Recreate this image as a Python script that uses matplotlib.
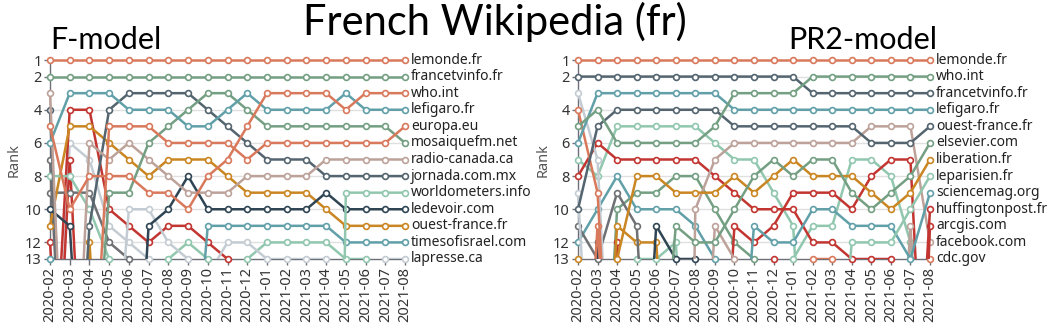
import matplotlib
matplotlib.use("Agg")
import matplotlib.pyplot as plt
from matplotlib.patches import Rectangle

# ---------------- data ----------------
MONTHS = ['2020-02', '2020-03', '2020-04', '2020-05', '2020-06', '2020-07', '2020-08',
          '2020-09', '2020-10', '2020-11', '2020-12', '2021-01', '2021-02', '2021-03',
          '2021-04', '2021-05', '2021-06', '2021-07', '2021-08']
Y_TICKS = [1, 2, 4, 6, 8, 10, 12, 13]

# F-model (ranks > 13 are off chart)
F_LEMONDE       = [1]*19
F_FRANCETVINFO  = [2]*19
F_WHO           = [5, 10, 8, 8, 8, 9, 9, 10, 8, 7, 5, 3, 3, 3, 3, 4, 3, 3, 3]
F_LEFIGARO      = [6, 3, 3, 3, 4, 4, 4, 5, 5, 4, 3, 4, 4, 4, 4, 3, 4, 4, 4]
F_EUROPA        = [30, 30, 25, 5, 5, 5, 6, 6, 6, 6, 7, 6, 6, 6, 6, 6, 6, 6, 5]
F_MOSAIQUE      = [30, 30, 25, 9, 9, 6, 5, 4, 3, 3, 4, 5, 5, 5, 5, 5, 5, 5, 6]
F_RADIOCANADA   = [3, 30, 6, 7, 6, 7, 8, 9, 9, 9, 8, 8, 8, 8, 7, 7, 7, 7, 7]
F_JORNADA       = [4, 30, 11, 4, 3, 3, 3, 3, 4, 5, 6, 7, 7, 7, 8, 8, 8, 8, 8]
F_WORLDOMETERS  = [8, 8, 10, 13, 30, 30, 30, 30, 30, 30, 30, 30, 30, 30, 80, 9, 9, 9, 9]
F_LEDEVOIR      = [10, 11, 30, 30, 30, 11, 10, 8, 10, 10, 10, 10, 10, 10, 9, 10, 10, 10, 10]
F_OUESTFRANCE   = [11, 5, 5, 6, 7, 8, 7, 7, 7, 8, 9, 9, 9, 9, 10, 11, 11, 11, 11]
F_TIMESOFISRAEL = [30, 30, 30, 30, 30, 30, 30, 25, 11, 11, 11, 11, 11, 11, 11, 12, 12, 12, 12]
F_LAPRESSE      = [30, 30, 30, 25, 10, 10, 12, 13, 14, 12, 12, 13, 13, 13, 13, 14, 14, 13, 13]
F_OTHER_MINT    = [30, 30, 30, 30, 30, 20, 13, 12, 13, 14, 13, 12, 12, 12, 12, 13, 13, 30, 30]
F_OTHER_LIGHT   = [30, 6, 7, 11, 12, 13, 30, 30, 30, 30, 30, 30, 30, 30, 30, 30, 30, 30, 30]
F_OTHER_RED1    = [25, 4, 4, 10, 11, 12, 11, 11, 12, 13, 30, 30, 30, 30, 30, 30, 30, 30, 30]
F_OTHER_RED2    = [12, 30, 30, 30, 30, 30, 30, 30, 30, 30, 30, 30, 30, 30, 30, 30, 30, 30, 30]
F_OTHER_RED3    = [30, 7, 30, 30, 30, 30, 30, 30, 30, 30, 30, 30, 30, 30, 30, 30, 30, 30, 30]
F_OTHER_GRAY1   = [9, 9, 9, 12, 13, 30, 30, 30, 30, 30, 30, 30, 30, 30, 30, 30, 30, 30, 30]
F_OTHER_GRAY2   = [7, 30, 30, 30, 30, 30, 30, 30, 30, 30, 30, 30, 30, 30, 30, 30, 30, 30, 30]
F_OTHER_TEAL    = [13, 30, 30, 30, 30, 30, 30, 30, 30, 30, 30, 30, 30, 30, 30, 30, 30, 30, 30]
F_OTHER_GOLD    = [30, 30, 12, 30, 30, 30, 30, 30, 30, 30, 30, 30, 30, 30, 30, 30, 30, 30, 30]

# PR2-model
P_LEMONDE       = [1]*19
P_WHO           = [5, 4, 6, 6, 6, 6, 6, 5, 3, 3, 3, 3, 2, 2, 2, 2, 2, 2, 2]
P_FRANCETVINFO  = [2]*12 + [3]*7
P_LEFIGARO      = [6, 3, 3, 3, 3, 3, 3, 3, 4, 4, 4, 4, 4, 4, 4, 4, 4, 4, 4]
P_OUESTFRANCE   = [10, 5, 4, 4, 4, 4, 4, 4, 5, 5, 5, 5, 5, 5, 5, 6, 6, 6, 5]
P_ELSEVIER      = [30, 30, 30, 30, 25, 11, 12, 12, 10, 8, 7, 8, 7, 7, 9, 10, 9, 8, 6]
P_LIBERATION    = [13, 30, 13, 8, 8, 9, 9, 9, 8, 9, 8, 7, 8, 8, 8, 9, 10, 9, 7]
P_LEPARISIEN    = [30, 30, 30, 30, 30, 30, 30, 30, 30, 30, 30, 30, 30, 25, 12, 12, 12, 10, 8]
P_SCIENCEMAG    = [30, 30, 30, 30, 30, 30, 30, 30, 25, 11, 12, 12, 10, 10, 11, 11, 11, 13, 9]
P_HUFFINGTON    = [30, 30, 30, 30, 30, 30, 30, 30, 30, 30, 30, 30, 30, 30, 30, 30, 30, 30, 10]
P_ARCGIS        = [30, 30, 30, 30, 30, 30, 30, 30, 30, 30, 30, 30, 30, 30, 30, 30, 30, 40, 11]
P_FACEBOOK      = [30, 30, 30, 30, 30, 80, 10, 7, 6, 6, 6, 6, 6, 6, 6, 5, 5, 5, 12]
P_CDC           = [4, 9, 30, 30, 30, 30, 30, 30, 30, 30, 30, 30, 13, 13, 30, 30, 30, 30, 13]
P_OTHER_MINT1   = [7, 8, 5, 5, 5, 5, 5, 6, 7, 7, 9, 11, 30, 30, 30, 30, 30, 30, 30]
P_OTHER_MINT2   = [30, 30, 30, 30, 30, 30, 30, 30, 30, 30, 20, 13, 11, 11, 7, 7, 8, 12, 30]
P_OTHER_MINT3   = [30, 30, 30, 13, 13, 12, 30, 30, 30, 30, 30, 30, 30, 30, 30, 30, 30, 30, 30]
P_OTHER_GREEN   = [30, 30, 10, 9, 9, 8, 8, 10, 12, 13, 30, 30, 30, 30, 30, 30, 30, 30, 30]
P_OTHER_RED1    = [8, 6, 7, 7, 7, 7, 7, 8, 9, 10, 10, 10, 12, 12, 13, 13, 13, 30, 30]
P_OTHER_RED2    = [30, 30, 30, 30, 30, 30, 30, 30, 11, 12, 11, 9, 9, 9, 10, 8, 7, 7, 30]
P_OTHER_RED3    = [30, 30, 12, 30, 30, 30, 30, 30, 30, 30, 13, 30, 30, 30, 30, 30, 30, 30, 30]
P_OTHER_TEAL    = [12, 10, 8, 10, 10, 10, 11, 13, 30, 30, 30, 30, 30, 30, 30, 30, 30, 30, 30]
P_OTHER_GOLD    = [30, 30, 11, 12, 12, 30, 30, 30, 30, 30, 30, 30, 30, 30, 30, 30, 30, 30, 30]
P_OTHER_GRAY    = [11, 13, 9, 11, 30, 30, 30, 30, 30, 30, 30, 30, 30, 30, 30, 30, 30, 30, 30]
P_OTHER_NAVY    = [30, 12, 30, 30, 11, 13, 13, 30, 30, 30, 30, 30, 30, 30, 30, 30, 30, 30, 30]
P_OTHER_LIGHT1  = [3, 7, 30, 30, 30, 30, 30, 30, 30, 30, 30, 30, 30, 30, 30, 30, 30, 30, 30]
P_OTHER_LIGHT2  = [9, 30, 30, 30, 30, 30, 30, 30, 30, 30, 30, 30, 30, 30, 30, 30, 30, 30, 30]
P_OTHER_SALMON  = [30, 11, 30, 30, 30, 30, 30, 30, 30, 30, 30, 30, 30, 30, 30, 30, 30, 30, 30]
P_OTHER_ROSE    = [30, 30, 30, 30, 30, 30, 30, 11, 13, 30, 30, 30, 30, 30, 30, 30, 30, 11, 30]

# ---------------- style ----------------
SAL = '#d9795c'; GRN = '#749f83'; TEAL = '#61a0a8'; SLATE = '#546570'; NAVY = '#2f4554'
MINT = '#91c7ae'; GOLD = '#ca8622'; ROSE = '#bda29a'; RED = '#c23531'; GRAY = '#6e7074'
LIGHT = '#c4ccd3'

F_SERIES = [
    (F_OTHER_MINT, MINT, None), (F_OTHER_LIGHT, LIGHT, None), (F_OTHER_RED1, RED, None),
    (F_OTHER_RED2, RED, None), (F_OTHER_RED3, RED, None), (F_OTHER_GRAY1, GRAY, None),
    (F_OTHER_GRAY2, GRAY, None), (F_OTHER_TEAL, TEAL, None), (F_OTHER_GOLD, GOLD, None),
    (F_LAPRESSE, LIGHT, 'lapresse.ca'), (F_TIMESOFISRAEL, TEAL, 'timesofisrael.com'),
    (F_OUESTFRANCE, GOLD, 'ouest-france.fr'), (F_LEDEVOIR, NAVY, 'ledevoir.com'),
    (F_WORLDOMETERS, MINT, 'worldometers.info'), (F_JORNADA, SLATE, 'jornada.com.mx'),
    (F_RADIOCANADA, ROSE, 'radio-canada.ca'), (F_MOSAIQUE, GRN, 'mosaiquefm.net'),
    (F_EUROPA, SAL, 'europa.eu'), (F_LEFIGARO, TEAL, 'lefigaro.fr'), (F_WHO, SAL, 'who.int'),
    (F_FRANCETVINFO, GRN, 'francetvinfo.fr'), (F_LEMONDE, SAL, 'lemonde.fr'),
]
P_SERIES = [
    (P_OTHER_MINT1, MINT, None), (P_OTHER_MINT2, MINT, None), (P_OTHER_MINT3, MINT, None),
    (P_OTHER_GREEN, GRN, None), (P_OTHER_RED1, RED, None), (P_OTHER_RED2, RED, None),
    (P_OTHER_RED3, RED, None), (P_OTHER_TEAL, TEAL, None), (P_OTHER_GOLD, GOLD, None),
    (P_OTHER_GRAY, GRAY, None), (P_OTHER_NAVY, NAVY, None), (P_OTHER_LIGHT1, LIGHT, None),
    (P_OTHER_LIGHT2, LIGHT, None), (P_OTHER_SALMON, SAL, None), (P_OTHER_ROSE, ROSE, None),
    (P_CDC, SAL, 'cdc.gov'), (P_FACEBOOK, ROSE, 'facebook.com'), (P_ARCGIS, RED, 'arcgis.com'),
    (P_HUFFINGTON, RED, 'huffingtonpost.fr'), (P_SCIENCEMAG, TEAL, 'sciencemag.org'),
    (P_LEPARISIEN, MINT, 'leparisien.fr'), (P_LIBERATION, GOLD, 'liberation.fr'),
    (P_ELSEVIER, GRN, 'elsevier.com'), (P_OUESTFRANCE, SLATE, 'ouest-france.fr'),
    (P_LEFIGARO, TEAL, 'lefigaro.fr'), (P_FRANCETVINFO, SLATE, 'francetvinfo.fr'),
    (P_WHO, GRN, 'who.int'), (P_LEMONDE, SAL, 'lemonde.fr'),
]

plt.rcParams['font.family'] = ['Noto Sans', 'DejaVu Sans']

W, H = 1048, 331
fig = plt.figure(figsize=(W/100, H/100), dpi=100)

AXIS_COL = '#6e7079'
TXT_COL = '#333333'


def draw_panel(rect, series):
    ax = fig.add_axes(rect)
    x = list(range(len(MONTHS)))
    ax.set_xlim(0, len(MONTHS) - 1)
    ax.set_ylim(13, 1)
    for g in [2, 4, 6, 8, 10, 12]:
        ax.axhline(g, color='#e0e0e0', lw=1.0, zorder=0)
    clip = Rectangle((-1, 0), len(MONTHS) + 1, 13, transform=ax.transData,
                     facecolor='none', edgecolor='none')
    ax.add_patch(clip)
    for i, (vals, col, name) in enumerate(series):
        z = 2 + i * 0.01
        ln, = ax.plot(x, vals, color=col, lw=1.8, zorder=z, solid_joinstyle='round')
        ln.set_clip_path(clip)
        px = [xi for xi, v in zip(x, vals) if v <= 13]
        py = [v for v in vals if v <= 13]
        ax.plot(px, py, ls='none', marker='o', ms=4.2, mfc='white', mec=col, mew=1.2,
                zorder=z + 0.005, clip_on=False)
        if name is not None:
            ax.annotate(name, xy=(x[-1], vals[-1]), xytext=(4.5, 0),
                        textcoords='offset points', va='center', ha='left',
                        fontsize=10, color='#222222', annotation_clip=False)
    for s in ['top', 'right']:
        ax.spines[s].set_visible(False)
    for s in ['left', 'bottom']:
        ax.spines[s].set_color(AXIS_COL)
        ax.spines[s].set_linewidth(1.0)
        ax.spines[s].set_zorder(1.5)
    ax.set_yticks(Y_TICKS)
    ax.set_yticklabels([str(t) for t in Y_TICKS])
    ax.set_xticks(x)
    ax.set_xticklabels(MONTHS, rotation=90)
    ax.tick_params(axis='both', colors=AXIS_COL, length=4, width=1.0, labelsize=10.5,
                   labelcolor=TXT_COL, pad=2)
    ax.patch.set_alpha(0)
    return ax


axL = draw_panel([50/W, (H-259)/H, 355/W, 199/H], F_SERIES)
axR = draw_panel([578/W, (H-259)/H, 352/W, 199/H], P_SERIES)

fig.text(14/W, 1 - 160/H, 'Rank', rotation=90, ha='center', va='center',
         fontsize=10.5, color='#555555')
fig.text(543/W, 1 - 160/H, 'Rank', rotation=90, ha='center', va='center',
         fontsize=10.5, color='#555555')

fig.text(495/W, 1 - 22/H, 'French Wikipedia (fr)', ha='center', va='center',
         fontsize=30, color='black', family=['Lato', 'DejaVu Sans'])
fig.text(50/W, 1 - 40/H, 'F-model', ha='left', va='center', fontsize=22,
         color='black', family=['Lato', 'DejaVu Sans'])
fig.text(937/W, 1 - 40/H, 'PR2-model', ha='right', va='center', fontsize=22,
         color='black', family=['Lato', 'DejaVu Sans'])

fig.savefig('out.png', dpi=100, facecolor='white')
